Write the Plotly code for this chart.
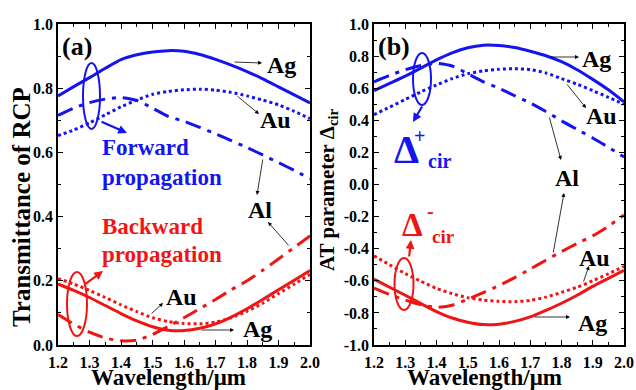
import plotly.graph_objects as go

W, H = 636, 390

# ---------------- data ----------------
wavelength = [1.20, 1.25, 1.30, 1.35, 1.40, 1.45, 1.50, 1.55, 1.60,
              1.65, 1.70, 1.75, 1.80, 1.85, 1.90, 1.95, 2.00]

# (a) Transmittance of RCP, forward propagation
fwd_Ag = [.776, .805, .833, .862, .889, .904, .913, .917, .915, .905, .890, .872, .852, .829, .804, .779, .754]
fwd_Au = [.652, .670, .692, .717, .742, .763, .781, .790, .795, .797, .794, .787, .776, .763, .748, .728, .705]
fwd_Al = [.715, .738, .755, .766, .771, .762, .738, .712, .697, .678, .658, .637, .615, .592, .568, .544, .518]
# (a) backward propagation
bwd_Ag = [.190, .170, .148, .123, .098, .075, .057, .046, .045, .052, .066, .087, .113, .142, .172, .202, .232]
bwd_Au = [.207, .190, .170, .148, .125, .104, .085, .073, .067, .066, .071, .085, .105, .130, .160, .190, .220]
bwd_Al = [.095, .065, .040, .022, .013, .015, .033, .058, .085, .113, .142, .172, .200, .233, .268, .304, .340]

# (b) AT parameter
dp_Ag = [.585, .630, .675, .725, .776, .820, .852, .868, .866, .853, .830, .802, .765, .715, .655, .590, .515]
dp_Au = [.435, .482, .530, .577, .620, .660, .690, .708, .718, .721, .716, .695, .660, .625, .585, .543, .500]
dp_Al = [.640, .680, .715, .742, .755, .738, .690, .640, .600, .553, .508, .455, .397, .343, .290, .232, .172]
dm_Ag = [-.590, -.640, -.690, -.742, -.792, -.832, -.858, -.873, -.870, -.853, -.825, -.785, -.740, -.690, -.635, -.585, -.535]
dm_Au = [-.445, -.500, -.555, -.603, -.647, -.680, -.705, -.720, -.728, -.730, -.722, -.702, -.672, -.640, -.600, -.556, -.510]
dm_Al = [-.645, -.685, -.720, -.750, -.765, -.752, -.715, -.673, -.630, -.580, -.527, -.472, -.418, -.367, -.320, -.260, -.190]

x_ticks = [1.2, 1.3, 1.4, 1.5, 1.6, 1.7, 1.8, 1.9, 2.0]
x_ticktext = ["1.2", "1.3", "1.4", "1.5", "1.6", "1.7", "1.8", "1.9", "2.0"]
ya_ticks = [0.0, 0.2, 0.4, 0.6, 0.8, 1.0]
ya_ticktext = ["0.0", "0.2", "0.4", "0.6", "0.8", "1.0"]
yb_ticks = [-1.0, -0.8, -0.6, -0.4, -0.2, 0.0, 0.2, 0.4, 0.6, 0.8, 1.0]
yb_ticktext = ["-1.0", "-0.8", "-0.6", "-0.4", "-0.2", "0.0", "0.2", "0.4", "0.6", "0.8", "1.0"]

BLUE = "#1414f0"
RED = "#f01414"
FONT = "Liberation Serif"
DASHDOT = "16px,7px,4px,7px"

fig = go.Figure()

def add(y, color, dash, xa, ya):
    fig.add_trace(go.Scatter(x=wavelength, y=y, mode="lines", xaxis=xa, yaxis=ya,
                             line=dict(color=color, width=3, dash=dash, shape="spline", smoothing=0.6),
                             showlegend=False, hoverinfo="skip"))

add(fwd_Ag, BLUE, "solid", "x", "y")
add(fwd_Au, BLUE, "dot", "x", "y")
add(fwd_Al, BLUE, DASHDOT, "x", "y")
add(bwd_Ag, RED, "solid", "x", "y")
add(bwd_Au, RED, "dot", "x", "y")
add(bwd_Al, RED, DASHDOT, "x", "y")
add(dp_Ag, BLUE, "solid", "x2", "y2")
add(dp_Au, BLUE, "dot", "x2", "y2")
add(dp_Al, BLUE, DASHDOT, "x2", "y2")
add(dm_Ag, RED, "solid", "x2", "y2")
add(dm_Au, RED, "dot", "x2", "y2")
add(dm_Al, RED, DASHDOT, "x2", "y2")

def px(x):
    return x / W

def py(y):
    return 1 - y / H

axis_common = dict(showline=True, linecolor="black", linewidth=1.5, mirror="allticks",
                   ticks="inside", ticklen=5, tickwidth=1.2, tickcolor="black",
                   showgrid=False, zeroline=False, automargin=False,
                   tickfont=dict(family=FONT, size=16, color="black", weight="bold"))

xa = dict(axis_common, range=[1.2, 2.0], tickmode="array", tickvals=x_ticks, ticktext=x_ticktext,
          ticklabelstandoff=2,
          minor=dict(ticks="inside", ticklen=3, tickwidth=1, tickcolor="black", tickmode="linear", tick0=1.2, dtick=0.05))
fig.update_layout(
    template="none",
    width=W, height=H,
    margin=dict(l=0, r=0, t=0, b=0, pad=0, autoexpand=False),
    paper_bgcolor="white", plot_bgcolor="white",
    font=dict(family=FONT, color="black"),
    xaxis=dict(xa, domain=[px(58), px(310)], anchor="y"),
    yaxis=dict(axis_common, range=[0, 1], domain=[py(345), py(24)], anchor="x",
               tickmode="array", tickvals=ya_ticks, ticktext=ya_ticktext,
               minor=dict(ticks="inside", ticklen=3, tickwidth=1, tickcolor="black", tickmode="linear", tick0=0, dtick=0.1)),
    xaxis2=dict(xa, domain=[px(374), px(624)], anchor="y2"),
    yaxis2=dict(axis_common, range=[-1, 1], domain=[py(345), py(24)], anchor="x2",
                tickmode="array", tickvals=yb_ticks, ticktext=yb_ticktext,
                minor=dict(ticks="inside", ticklen=3, tickwidth=1, tickcolor="black", tickmode="linear", tick0=0, dtick=0.1)),
)

anns = []

def text(t, x, y, size, color="black", xanchor="center", angle=0):
    anns.append(dict(text=t, x=px(x), y=py(y), xref="paper", yref="paper", showarrow=False,
                     xanchor=xanchor, yanchor="middle", textangle=angle,
                     font=dict(family=FONT, size=size, color=color, weight="bold")))

def arrow(tail, head, color="black", width=0.8, size=1.0, hs=2):
    anns.append(dict(text="", x=px(head[0]), y=py(head[1]), xref="paper", yref="paper",
                     showarrow=True, ax=tail[0] - head[0], ay=tail[1] - head[1],
                     arrowcolor=color, arrowwidth=width, arrowsize=size, arrowhead=hs,
                     standoff=0, startstandoff=0, font=dict(size=1)))

shapes = []

def ellipse(cx, cy, rx, ry, color):
    shapes.append(dict(type="circle", xref="paper", yref="paper",
                       x0=px(cx - rx), x1=px(cx + rx), y0=py(cy + ry), y1=py(cy - ry),
                       line=dict(color=color, width=2)))

# axis titles
text("Transmittance of RCP", 21, 207, 25, angle=-90)
text("Wavelength/μm", 168, 377, 23)
text("AT parameter Δ<sub>cir</sub>", 328, 190, 21, angle=-90)
text("Wavelength/μm", 484, 377, 23)

# panel (a)
text("(a)", 60, 46, 26, xanchor="left")
text("Ag", 281, 65, 24); arrow((233, 62), (262, 63))
text("Au", 275, 120, 24); arrow((236, 95), (259, 114))
text("Forward", 100, 147, 23, BLUE, xanchor="left")
text("propagation", 100, 178, 23, BLUE, xanchor="left")
ellipse(91.5, 96, 8.5, 33, BLUE)
arrow((100, 121), (127, 133), BLUE, 2.2, 0.8)
text("Al", 260, 210, 24)
arrow((263, 158), (257, 195))
arrow((290, 247), (268, 222))
text("Backward", 100, 226, 23, RED, xanchor="left")
text("propagation", 100, 254, 23, RED, xanchor="left")
ellipse(77, 304, 10, 32, RED)
arrow((84, 285), (103, 271), RED, 2.2, 0.8)
text("Au", 181, 297, 24); arrow((150, 315), (163, 303))
text("Ag", 257, 329, 24); arrow((200, 330), (234, 330))

# panel (b)
text("(b)", 376, 46, 26, xanchor="left")
text("Ag", 596, 59, 24); arrow((549, 57), (579, 57))
text("Au", 601, 116, 24); arrow((566, 83), (586, 108))
ellipse(422, 79, 9, 26, BLUE)
arrow((423, 105), (413, 122), BLUE, 2.2, 0.8)
text("Δ", 406, 149, 40, BLUE)
text("+", 419, 136, 20, BLUE)
text("cir", 426, 161, 20, BLUE, xanchor="left")
text("Al", 567, 178, 24)
arrow((549, 116), (561, 160))
arrow((553, 254), (564, 193))
text("Δ", 412, 225, 33, RED)
text("-", 430, 211, 20, RED)
text("cir", 430, 237, 19, RED, xanchor="left")
ellipse(404, 284, 9.5, 26, RED)
arrow((409, 258), (411, 240), RED, 2.2, 0.8)
text("Au", 594, 258, 24); arrow((583, 283), (589, 266))
text("Ag", 592, 323, 24); arrow((533, 317), (570, 317))

fig.update_layout(annotations=anns, shapes=shapes)
fig.write_html("out.html", config={"displayModeBar": False},
               post_script="document.body.style.margin='0';document.body.style.padding='0';")
